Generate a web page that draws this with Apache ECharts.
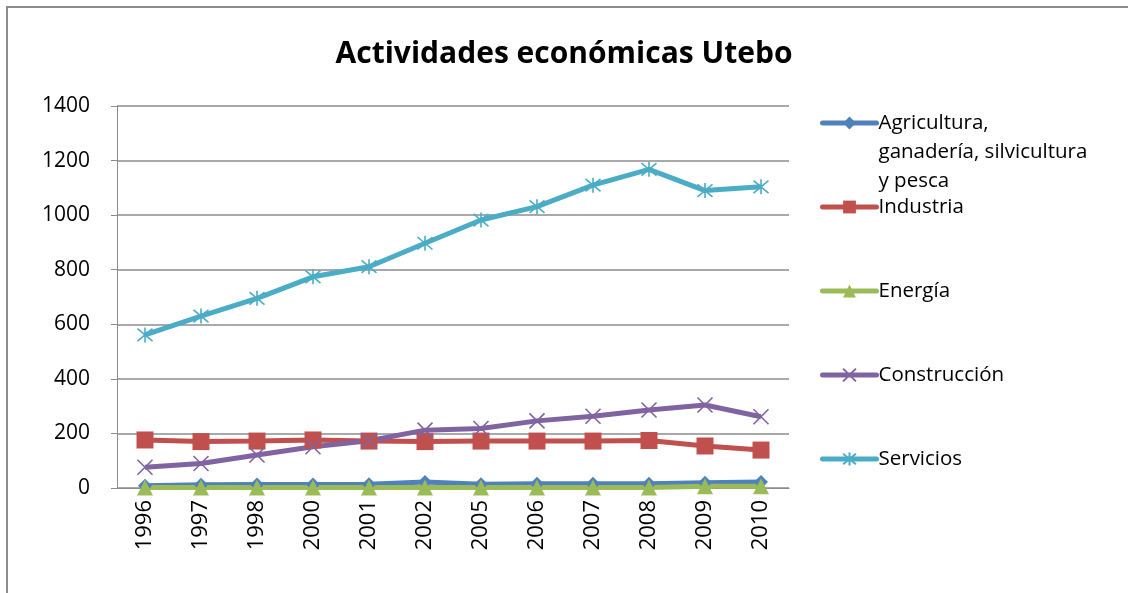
<!DOCTYPE html>
<html>
<head>
<meta charset="utf-8">
<script src="https://cdn.jsdelivr.net/npm/echarts@6/dist/echarts.min.js"></script>
<style>
  html, body { margin: 0; padding: 0; background: #fff; }
  #main { width: 1128px; height: 593px; }
</style>
</head>
<body>
<div id="main"></div>
<script>
var years = ['1996', '1997', '1998', '2000', '2001', '2002', '2005', '2006', '2007', '2008', '2009', '2010'];

var agricultura = [8, 12, 13, 13, 14, 22, 14, 16, 16, 16, 19, 22];
var industria = [176, 170, 172, 176, 172, 170, 172, 172, 172, 174, 154, 139];
var energia = [2, 2, 2, 2, 2, 2, 2, 2, 2, 2, 6, 6];
var construccion = [76, 90, 121, 151, 173, 212, 218, 246, 263, 286, 304, 261];
var servicios = [561, 630, 695, 774, 811, 897, 982, 1031, 1110, 1168, 1090, 1104];

var names = ['Agricultura, ganadería, silvicultura y pesca', 'Industria', 'Energía', 'Construcción', 'Servicios'];
var colors = ['#4F81BD', '#C0504D', '#9BBB59', '#8064A2', '#4BACC6'];

var fontFam = '"Open Sans", "Liberation Sans", sans-serif';
var crossPath = 'path://M0,0L10,10M10,0L0,10';
var starPath = 'path://M0,0L10,10M10,0L0,10M5,-1L5,11';

var myChart = echarts.init(document.getElementById('main'));

function mkSeries(i, data, symbol, size, stroke) {
	return {
		name: names[i],
		type: 'line',
		data: data,
		symbol: symbol,
		symbolSize: size,
		showAllSymbol: true,
		lineStyle: { color: colors[i], width: 5 },
		itemStyle: stroke ? { color: 'rgba(0,0,0,0)', borderColor: colors[i], borderWidth: 1.6 } : { color: colors[i] },
		emphasis: { disabled: true },
		animation: false
	};
}

// one legend per item so each row sits where the picture has it
var legendRows = [123, 207, 291, 375, 459];
var legends = legendRows.map(function(y, i) {
	return {
		data: [names[i]],
		orient: 'vertical',
		left: 820,
		top: i == 0 ? y - 72.5 : y - 14.5,
		padding: 0,
		itemWidth: 54,
		itemHeight: 16,
		itemGap: 0,
		selectedMode: false,
		lineStyle: { width: 5, cap: 'round' },
		formatter: function(n) {
			if (n == names[0]) return '\n\nAgricultura,\nganadería, silvicultura\ny pesca';
			return n;
		},
		textStyle: { fontFamily: fontFam, fontSize: 20.5, color: '#000', lineHeight: 29, padding: [0, 0, 0, -3] }
	};
});

option = {
	backgroundColor: '#fff',
	animation: false,
	title: {
		text: 'Actividades económicas Utebo',
		left: 'center',
		top: 39,
		padding: 0,
		textStyle: { fontFamily: fontFam, fontSize: 30, fontWeight: 'bold', color: '#000' }
	},
	graphic: [{
		type: 'rect',
		shape: { x: 7, y: 7, width: 1130, height: 600 },
		style: { fill: 'none', stroke: '#8c8c8c', lineWidth: 2 },
		silent: true
	}],
	legend: legends,
	grid: { left: 117, top: 106, width: 672, height: 382, containLabel: false },
	xAxis: {
		type: 'category',
		data: years,
		boundaryGap: true,
		axisLine: { lineStyle: { color: '#8c8c8c', width: 1 } },
		axisTick: { show: false },
		axisLabel: { rotate: 90, fontFamily: fontFam, fontSize: 22, color: '#000', margin: 12 }
	},
	yAxis: {
		type: 'value',
		min: 0,
		max: 1400,
		interval: 200,
		axisLine: { show: true, lineStyle: { color: '#8c8c8c', width: 1 } },
		axisTick: { show: true, length: 6, inside: false, lineStyle: { color: '#8c8c8c' } },
		splitLine: { lineStyle: { color: '#8c8c8c', width: 1.5 } },
		axisLabel: {
			fontFamily: fontFam, fontSize: 21, color: '#000', margin: 27,
			formatter: function(v) { return String(v); }
		}
	},
	series: [
		mkSeries(0, agricultura, 'diamond', 14, false),
		mkSeries(1, industria, 'rect', 17, false),
		mkSeries(2, energia, 'triangle', 16, false),
		mkSeries(3, construccion, crossPath, 15, true),
		mkSeries(4, servicios, starPath, 15, true)
	]
};

myChart.setOption(option);
</script>
</body>
</html>
